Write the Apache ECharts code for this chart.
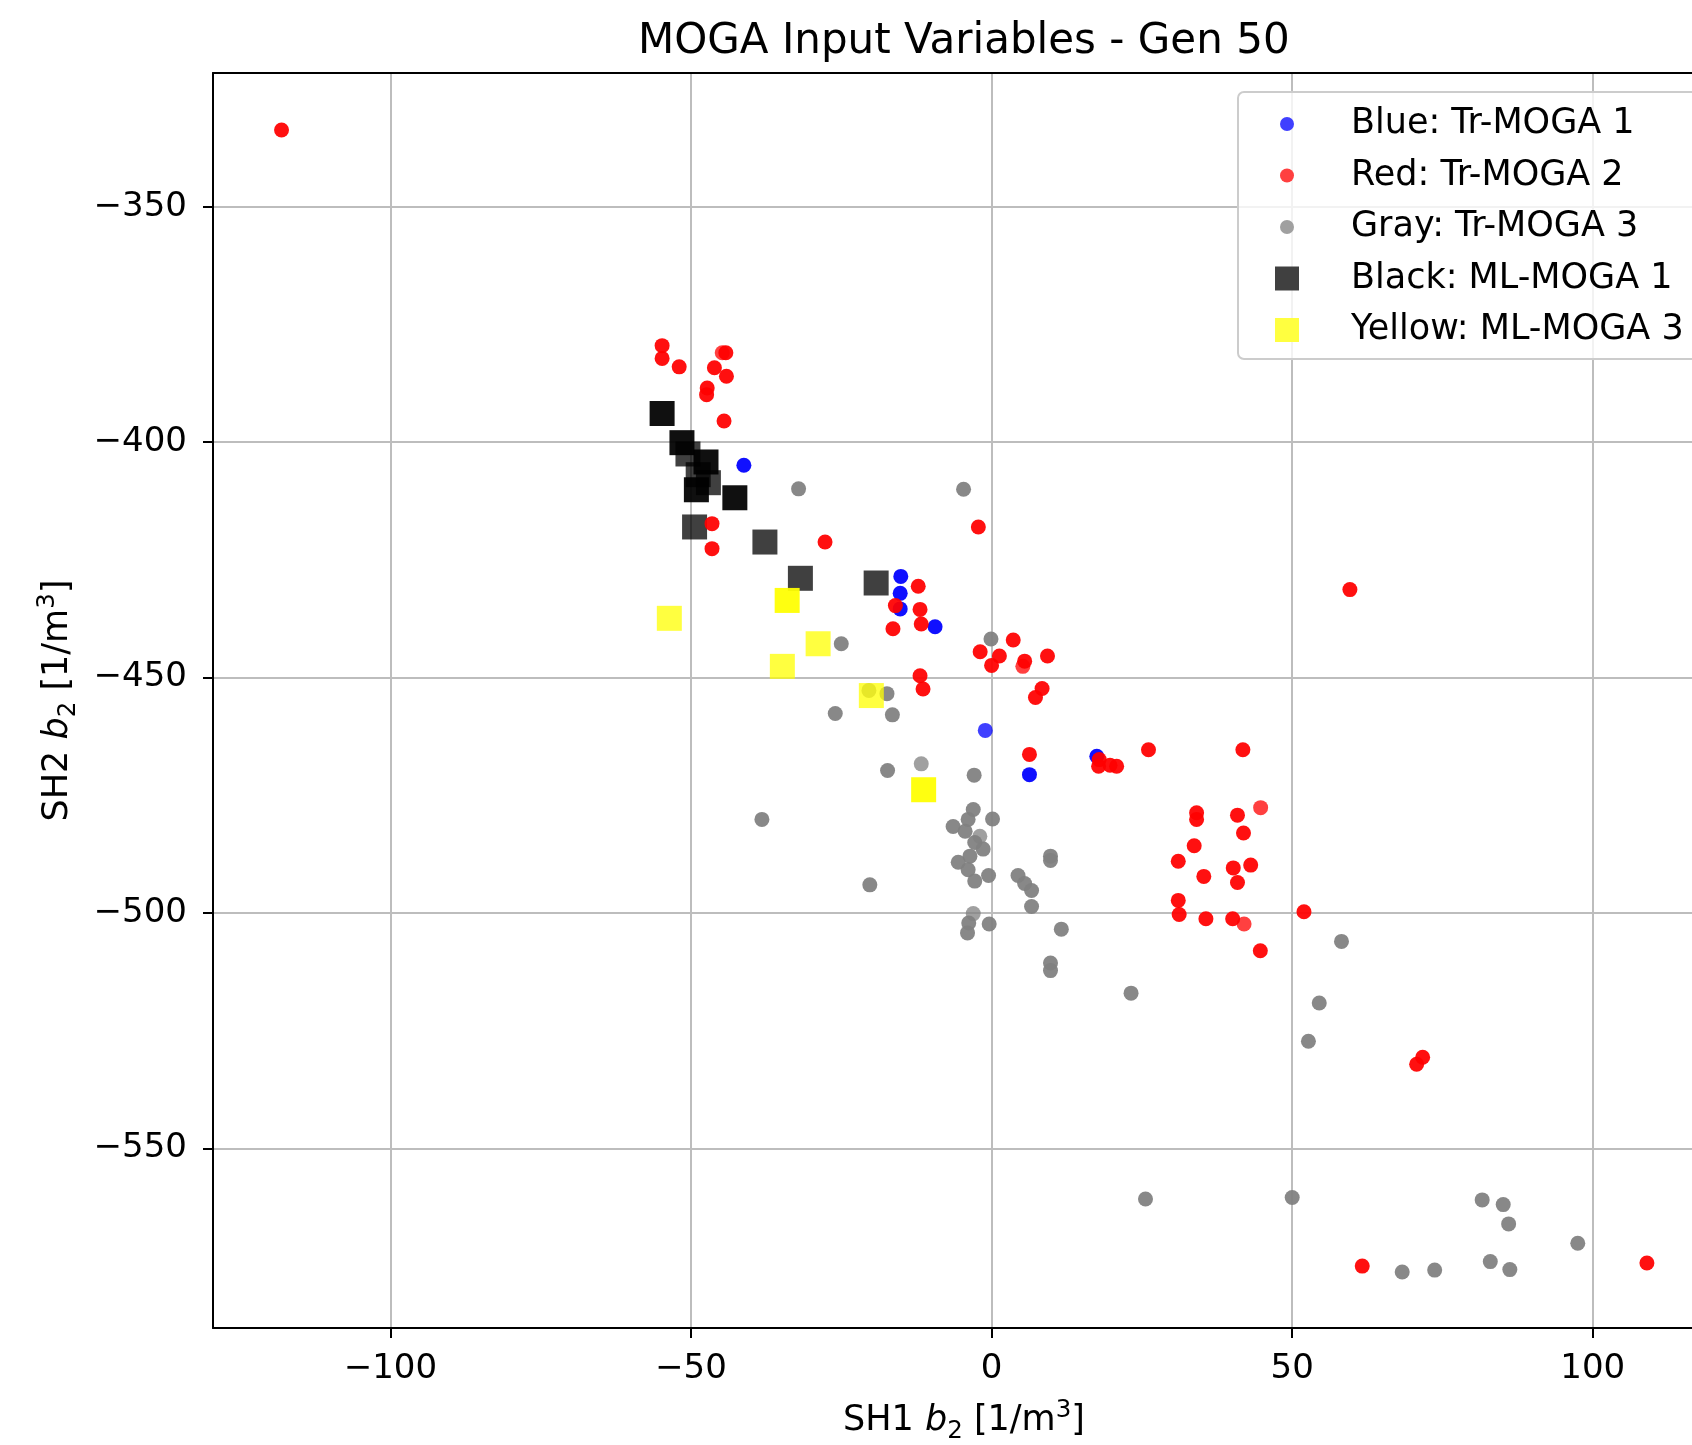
<!DOCTYPE html>
<html>
<head>
<meta charset="utf-8">
<script src="https://cdn.jsdelivr.net/npm/echarts@6/dist/echarts.min.js"></script>
<style>html,body{margin:0;padding:0;background:#fff}#c{width:1692px;height:1445px}</style>
</head>
<body>
<div id="c"></div>
<script>
// ---- data: [x, y, stacked count] ----
const TITLE = 'MOGA Input Variables - Gen 50';
const SERIES_NAMES = ['Blue: Tr-MOGA 1', 'Red: Tr-MOGA 2', 'Gray: Tr-MOGA 3', 'Black: ML-MOGA 1', 'Yellow: ML-MOGA 3'];
const X_TICKS = [-100, -50, 0, 50, 100];
const Y_TICKS = [-550, -500, -450, -400, -350];

const blueTr1 = [
  [-41.2, -404.9, 2], [-15.1, -428.5, 2], [-15.2, -432.1, 2], [-15.2, -435.4, 2],
  [-9.4, -439.2, 2], [-1.05, -461.2, 1], [6.3, -470.6, 2], [17.5, -466.7, 2]
];
const redTr2 = [
  [-118.1, -333.7, 2], [-54.8, -379.5, 2], [-54.8, -382.2, 2], [-51.96, -384.0, 2],
  [-44.8, -381.0, 1], [-44.2, -381.0, 2], [-46.1, -384.2, 2], [-44.1, -386.0, 2],
  [-47.3, -388.5, 2], [-47.4, -389.9, 2], [-44.5, -395.5, 2], [-46.5, -417.3, 2],
  [-46.5, -422.6, 2], [-27.7, -421.2, 2], [-2.2, -418.0, 2], [-12.2, -430.6, 2],
  [-16.0, -434.7, 2], [-11.9, -435.5, 2], [-11.7, -438.6, 2], [-16.4, -439.6, 2],
  [3.6, -442.0, 2], [-1.9, -444.5, 2], [1.3, -445.4, 2], [0.0, -447.4, 2],
  [5.5, -446.5, 2], [5.2, -447.6, 1], [9.3, -445.4, 2], [-11.9, -449.6, 2],
  [-11.4, -452.4, 2], [8.4, -452.3, 2], [7.3, -454.2, 2], [6.3, -466.3, 2],
  [17.9, -467.4, 2], [17.8, -468.8, 2], [19.7, -468.6, 2], [20.8, -468.8, 2],
  [26.1, -465.3, 2], [41.8, -465.3, 2], [44.75, -477.6, 1], [34.1, -478.7, 2],
  [34.1, -480.1, 2], [40.9, -479.2, 2], [41.9, -483.0, 2], [33.7, -485.7, 2],
  [31.05, -489.0, 2], [43.1, -489.8, 2], [40.2, -490.4, 2], [35.3, -492.2, 2],
  [40.9, -493.5, 2], [31.05, -497.3, 2], [31.2, -500.3, 2], [35.65, -501.2, 2],
  [40.1, -501.2, 2], [42.0, -502.3, 1], [51.96, -499.7, 2], [44.7, -508.0, 2],
  [59.6, -431.3, 2], [71.7, -530.6, 2], [70.7, -532.1, 2], [61.65, -574.95, 2],
  [109.0, -574.3, 2]
];
const grayTr3 = [
  [-32.1, -409.9, 2], [-4.66, -410.0, 2], [-25.0, -442.8, 2], [-0.1, -441.8, 2],
  [-20.4, -452.7, 1], [-17.4, -453.4, 2], [-26.0, -457.6, 2], [-16.5, -457.9, 2],
  [-17.3, -469.7, 2], [-11.7, -468.3, 1], [-2.9, -470.7, 2], [-38.2, -480.1, 2],
  [-20.25, -494.0, 2], [-3.05, -478.0, 2], [0.16, -480.0, 2], [-3.9, -480.1, 2],
  [-6.4, -481.6, 2], [-4.4, -482.6, 2], [-1.95, -483.7, 1], [-2.8, -485.0, 2],
  [-1.4, -486.4, 2], [-3.6, -487.9, 2], [-5.55, -489.2, 2], [-3.9, -490.8, 2],
  [-2.8, -493.2, 2], [-0.5, -492.0, 2], [9.8, -487.9, 2], [9.8, -488.8, 2],
  [4.4, -492.0, 2], [5.5, -493.7, 2], [6.65, -495.2, 2], [6.65, -498.6, 2],
  [-3.05, -500.1, 1], [-3.8, -502.1, 2], [-4.0, -504.2, 2], [-0.4, -502.3, 2],
  [11.6, -503.4, 2], [9.8, -510.6, 2], [9.8, -512.2, 2], [23.2, -517.0, 2],
  [58.2, -506.0, 2], [54.5, -519.1, 2], [52.7, -527.2, 2], [25.6, -560.7, 2],
  [50.0, -560.4, 2], [81.6, -560.9, 2], [85.1, -561.9, 2], [86.0, -566.0, 2],
  [97.5, -570.1, 2], [68.3, -576.2, 2], [73.7, -575.8, 2], [82.95, -574.0, 2],
  [86.2, -575.7, 2]
];
const blackMl1 = [
  [-54.8, -393.9, 2], [-51.5, -400.1, 2], [-50.5, -402.5, 1], [-47.5, -404.2, 2],
  [-48.8, -406.9, 1], [-47.1, -408.6, 1], [-49.1, -410.1, 2], [-42.7, -411.8, 2],
  [-49.4, -418.0, 1], [-37.7, -421.2, 1], [-31.8, -428.9, 1], [-19.2, -429.9, 1]
];
const yellowMl3 = [
  [-53.6, -437.4, 1], [-34.0, -433.6, 2], [-28.85, -442.8, 1], [-34.8, -447.6, 1],
  [-20.0, -453.8, 1], [-11.3, -473.8, 2]
];

// ---- styling ----
const FONT = 'DejaVu Sans';
const ALPHA = 0.75;
const X_MIN = -129.5, X_MAX = 116.5, Y_MIN = -588.1, Y_MAX = -321.6;
const CIRCLE_ICON = 'path://M0,0M24,24M5,12A7,7,0,1,1,19,12A7,7,0,1,1,5,12Z';
const SQUARE_ICON = 'path://M0,0L24,0L24,24L0,24Z';

function items(arr) {
  return arr.map(p => ({ value: [p[0], p[1]], itemStyle: { opacity: 1 - Math.pow(1 - ALPHA, p[2]) } }));
}
function fmt(v) { return String(v).replace('-', '\u2212'); }
function scatter(name, data, color, symbol, size) {
  return {
    name: name, type: 'scatter', data: items(data), symbol: symbol, symbolSize: size,
    itemStyle: { color: color }, emphasis: { disabled: true }, silent: true
  };
}
const nameRich = {
  r: { fontSize: 35, fontFamily: FONT, color: '#000', lineHeight: 46 },
  i: { fontSize: 35, fontFamily: FONT, fontStyle: 'italic', color: '#000', lineHeight: 46 },
  sub: { fontSize: 24.5, fontFamily: FONT, color: '#000', lineHeight: 25, verticalAlign: 'bottom' },
  sup: { fontSize: 24.5, fontFamily: FONT, color: '#000', lineHeight: 31, verticalAlign: 'top' }
};
const axisCommon = {
  type: 'value',
  axisLine: { show: true, onZero: false, lineStyle: { color: '#000', width: 2 } },
  splitLine: { show: true, lineStyle: { color: '#bdbdbd', width: 2 } },
  nameLocation: 'middle'
};

const chart = echarts.init(document.getElementById('c'), null, { renderer: 'canvas' });
chart.setOption({
  animation: false,
  backgroundColor: '#ffffff',
  textStyle: { fontFamily: FONT },
  title: {
    text: TITLE, left: 638, top: 20, padding: 0,
    textStyle: { fontSize: 42, fontWeight: 'normal', color: '#000', fontFamily: FONT, lineHeight: 44 }
  },
  grid: { left: 213, right: 0, top: 73, bottom: 117, containLabel: false, outerBoundsMode: 'none' },
  legend: {
    orient: 'vertical', left: 1238, top: 92,
    padding: [12, 40, 9, 37],
    itemGap: 11.5, itemWidth: 24, itemHeight: 24,
    backgroundColor: 'rgba(255,255,255,0.8)', borderColor: '#cccccc', borderWidth: 2, borderRadius: 6,
    textStyle: { fontSize: 35, fontFamily: FONT, color: '#000', lineHeight: 40, padding: [0, 0, 0, 47] },
    selectedMode: false,
    data: [
      { name: SERIES_NAMES[0], icon: CIRCLE_ICON, itemStyle: { color: '#4040ff', opacity: 1 } },
      { name: SERIES_NAMES[1], icon: CIRCLE_ICON, itemStyle: { color: '#ff4040', opacity: 1 } },
      { name: SERIES_NAMES[2], icon: CIRCLE_ICON, itemStyle: { color: '#a0a0a0', opacity: 1 } },
      { name: SERIES_NAMES[3], icon: SQUARE_ICON, itemStyle: { color: '#404040', opacity: 1 } },
      { name: SERIES_NAMES[4], icon: SQUARE_ICON, itemStyle: { color: '#ffff40', opacity: 1 } }
    ]
  },
  xAxis: [
    Object.assign({}, axisCommon, {
      min: X_MIN, max: X_MAX, position: 'bottom',
      axisTick: { show: true, customValues: X_TICKS, length: 10, lineStyle: { color: '#000', width: 2 } },
      axisLabel: { customValues: X_TICKS, formatter: fmt, color: '#000', fontSize: 34, fontFamily: FONT, margin: 24 },
      name: '{r|SH1 }{i|b}{sub|2}{r| [1/m}{sup|3}{r|]}',
      nameGap: 70,
      nameTextStyle: { color: '#000', fontSize: 35, fontFamily: FONT, rich: nameRich, padding: [0, 0, 0, 23] }
    }),
    {
      type: 'value', min: X_MIN, max: X_MAX, position: 'top',
      axisLine: { show: true, onZero: false, lineStyle: { color: '#000', width: 2 } },
      axisTick: { show: false }, axisLabel: { show: false }, splitLine: { show: false }
    }
  ],
  yAxis: Object.assign({}, axisCommon, {
    min: Y_MIN, max: Y_MAX, position: 'left',
    axisTick: { show: true, customValues: Y_TICKS, length: 10, lineStyle: { color: '#000', width: 2 } },
    axisLabel: { customValues: Y_TICKS, formatter: fmt, color: '#000', fontSize: 34, fontFamily: FONT, margin: 26 },
    name: '{r|SH2 }{i|b}{sub|2}{r| [1/m}{sup|3}{r|]}',
    nameGap: 132,
    nameTextStyle: { color: '#000', fontSize: 35, fontFamily: FONT, rich: nameRich }
  }),
  series: [
    scatter(SERIES_NAMES[0], blueTr1, '#0000ff', 'circle', 15),
    scatter(SERIES_NAMES[2], grayTr3, '#808080', 'circle', 15),
    scatter(SERIES_NAMES[3], blackMl1, '#000000', 'rect', 25),
    scatter(SERIES_NAMES[4], yellowMl3, '#ffff00', 'rect', 25),
    scatter(SERIES_NAMES[1], redTr2, '#ff0000', 'circle', 15)
  ]
});
</script>
</body>
</html>
